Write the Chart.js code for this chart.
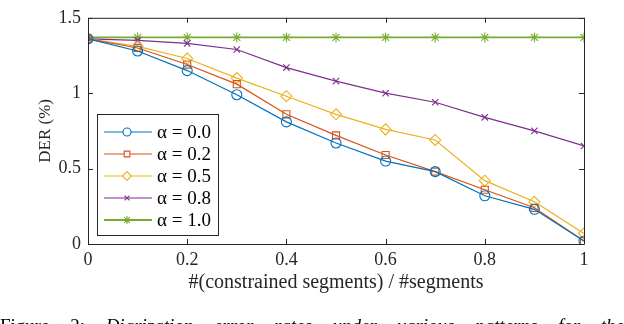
<!DOCTYPE html>
<html>
<head>
<meta charset="utf-8">
<script src="https://cdn.jsdelivr.net/npm/chart.js@4.4.0/dist/chart.umd.min.js"></script>
<style>
  html, body { margin: 0; padding: 0; background: #fff; overflow: hidden; }
  #wrap { position: relative; width: 624px; height: 324px; overflow: hidden; }
  #caption {
    position: absolute; left: 0; top: 316px; width: 624px;
    font-family: "Liberation Serif", serif; font-size: 19px; line-height: 19px;
    color: #000; white-space: nowrap; text-align: justify; text-align-last: justify;
  }
  #caption i { font-style: italic; }
</style>
</head>
<body>
<div id="wrap">
  <canvas id="chart" width="624" height="324"></canvas>
  <div id="caption">Figure 2: <i>Diarization error rates under various patterns for the</i></div>
</div>
<script>
// x = #(constrained segments) / #segments
var ratios = [0, 0.1, 0.2, 0.3, 0.4, 0.5, 0.6, 0.7, 0.8, 0.9, 1.0];

// DER (%) for each alpha
var alpha00 = [1.36, 1.28, 1.15, 0.99, 0.81, 0.67, 0.55, 0.48, 0.32, 0.23, 0.02];
var alpha02 = [1.36, 1.30, 1.19, 1.06, 0.86, 0.72, 0.59, 0.48, 0.36, 0.24, 0.02];
var alpha05 = [1.36, 1.31, 1.23, 1.10, 0.98, 0.86, 0.76, 0.69, 0.42, 0.28, 0.07];
var alpha08 = [1.36, 1.35, 1.33, 1.29, 1.17, 1.08, 1.00, 0.94, 0.84, 0.75, 0.65];
var alpha10 = [1.37, 1.37, 1.37, 1.37, 1.37, 1.37, 1.37, 1.37, 1.37, 1.37, 1.37];

var seriesLabels = ['α = 0.0', 'α = 0.2', 'α = 0.5', 'α = 0.8', 'α = 1.0'];
var xTicks = [0, 0.2, 0.4, 0.6, 0.8, 1];
var yTicks = [0, 0.5, 1, 1.5];

var serif = '"Liberation Serif", "Times New Roman", serif';
var axisColor = '#262626';

function pts(ys) {
    return ys.map(function (y, i) { return { x: ratios[i], y: y }; });
}

function mk(label, data, color, style, r, lw) {
    return {
        label: label,
        data: pts(data),
        borderColor: color,
        backgroundColor: 'rgba(0,0,0,0)',
        pointBorderColor: color,
        pointBackgroundColor: 'rgba(0,0,0,0)',
        pointStyle: style,
        pointRadius: r,
        pointBorderWidth: 1.1,
        borderWidth: lw,
        tension: 0
    };
}

// MATLAB-like box with inward ticks on all sides
var boxTicks = {
    id: 'boxTicks',
    afterDraw: function (chart) {
        var c = chart.ctx, a = chart.chartArea;
        var xs = chart.scales.x, ys = chart.scales.y;
        c.save();
        c.strokeStyle = axisColor;
        c.lineWidth = 1;
        c.beginPath();
        c.rect(a.left + 0.5, a.top + 0.5, a.right - a.left, a.bottom - a.top);
        xTicks.forEach(function (v) {
            var px = Math.round(xs.getPixelForValue(v)) + 0.5;
            c.moveTo(px, a.bottom); c.lineTo(px, a.bottom - 5);
            c.moveTo(px, a.top); c.lineTo(px, a.top + 5);
        });
        yTicks.forEach(function (v) {
            var py = Math.round(ys.getPixelForValue(v)) + 0.5;
            c.moveTo(a.left, py); c.lineTo(a.left + 5, py);
            c.moveTo(a.right, py); c.lineTo(a.right - 5, py);
        });
        c.stroke();
        c.restore();
    }
};

// legend drawn as line + marker, MATLAB style
var lineLegend = {
    id: 'lineLegend',
    afterDraw: function (chart) {
        var c = chart.ctx, a = chart.chartArea;
        var left = a.left + 9, bottom = a.bottom - 9;
        var w = 121, h = 121, rowH = 22;
        var top = bottom - h;
        c.save();
        c.fillStyle = '#fff';
        c.fillRect(left, top, w, h);
        c.strokeStyle = axisColor;
        c.lineWidth = 1;
        c.strokeRect(left + 0.5, top + 0.5, w, h);
        chart.data.datasets.forEach(function (ds, i) {
            var y = top + 18 + i * rowH;
            c.strokeStyle = ds.borderColor;
            c.lineWidth = ds.borderWidth;
            c.beginPath();
            c.moveTo(left + 7, y); c.lineTo(left + 55, y);
            c.stroke();
            c.lineWidth = 1.1;
            c.fillStyle = '#fff';
            Chart.helpers.drawPoint(c, {
                pointStyle: ds.pointStyle,
                radius: Math.max(ds.pointRadius - 1, 3.5),
                rotation: 0,
                borderWidth: 1.1
            }, left + 30, y);
            c.fillStyle = '#000';
            c.font = '19px ' + serif;
            c.textBaseline = 'middle';
            c.fillText(ds.label, left + 60, y + 1);
        });
        c.restore();
    }
};

function plainLabel(v) { return String(v); }

new Chart(document.getElementById('chart'), {
    type: 'line',
    data: {
        datasets: [
            mk(seriesLabels[0], alpha00, '#0072BD', 'circle', 5, 1.2),
            mk(seriesLabels[1], alpha02, '#D95319', 'rect', 5, 1.2),
            mk(seriesLabels[2], alpha05, '#EDB120', 'rectRot', 5.5, 1.2),
            mk(seriesLabels[3], alpha08, '#7E2F8E', 'crossRot', 4.5, 1.2),
            mk(seriesLabels[4], alpha10, '#77AC30', 'star', 5, 1.8)
        ]
    },
    options: {
        responsive: false,
        animation: false,
        devicePixelRatio: 1,
        events: [],
        layout: { padding: { top: 8, right: 40, left: 0, bottom: 0 } },
        plugins: { legend: { display: false }, tooltip: { enabled: false } },
        scales: {
            x: {
                type: 'linear', min: 0, max: 1,
                afterBuildTicks: function (s) { s.ticks = xTicks.map(function (v) { return { value: v }; }); },
                afterFit: function (s) { s.height = 80; },
                grid: { display: false, drawTicks: false },
                border: { display: false },
                ticks: { color: '#262626', font: { family: serif, size: 18 }, padding: 5, maxRotation: 0,
                         callback: plainLabel },
                title: { display: true, text: '#(constrained segments) / #segments', color: '#262626',
                         font: { family: serif, size: 20 }, padding: { top: 2, bottom: 29 } }
            },
            y: {
                type: 'linear', min: 0, max: 1.5,
                afterBuildTicks: function (s) { s.ticks = yTicks.map(function (v) { return { value: v }; }); },
                afterFit: function (s) { s.width = 88; },
                grid: { display: false, drawTicks: false },
                border: { display: false },
                ticks: { color: '#262626', font: { family: serif, size: 18 }, padding: 7,
                         callback: plainLabel },
                title: { display: true, text: 'DER (%)', color: '#262626',
                         font: { family: serif, size: 17 }, padding: { top: 35, bottom: 0 } }
            }
        }
    },
    plugins: [boxTicks, lineLegend]
});
</script>
</body>
</html>
